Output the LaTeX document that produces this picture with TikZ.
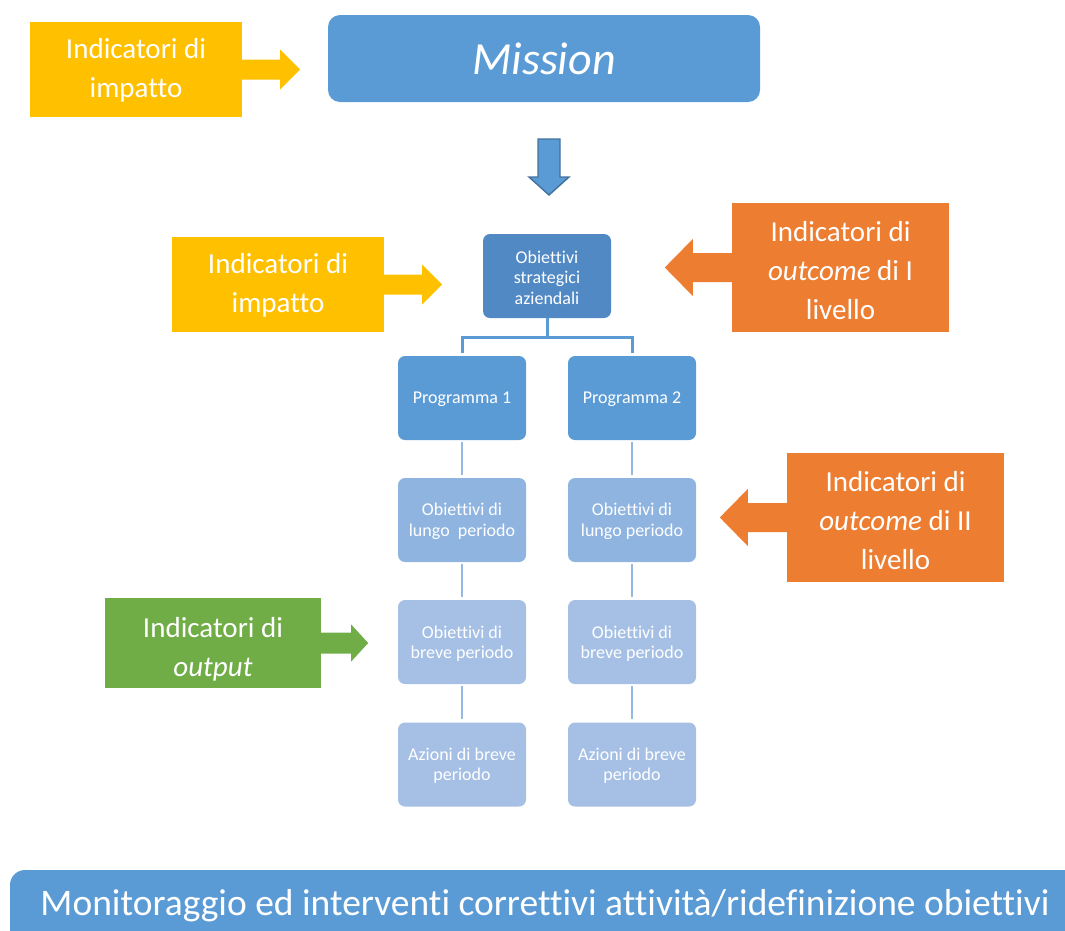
\documentclass[tikz,border=0pt]{standalone}
\usepackage{fontspec}
\setmainfont[Ligatures=NoCommon]{Carlito}
\usetikzlibrary{calc}
\definecolor{cyellow}{HTML}{FFC000}
\definecolor{corange}{HTML}{ED7D31}
\definecolor{cgreen}{HTML}{70AD47}
\definecolor{cblue}{HTML}{5B9BD5}
\definecolor{cstrat}{HTML}{5189C4}
\definecolor{clong}{HTML}{8FB4E0}
\definecolor{cshort}{HTML}{A5C0E4}
\definecolor{cedge}{HTML}{41719C}
\definecolor{cvline}{HTML}{94BAE4}
\tikzset{
  indbox/.style={inner sep=0pt, minimum width=#1pt},
  indtext/.style={inner sep=0pt, align=center, text=white,
     font=\fontsize{29}{39}\selectfont},
  orgbox/.style={fill=#1, rounded corners=7pt, inner sep=0pt, minimum width=128pt,
     minimum height=84pt},
  orgtext/.style={inner sep=0pt, align=center, text=white,
     font=\fontsize{18}{20.5}\selectfont},
  topconn/.style={draw=cblue, line width=3pt},
  vconn/.style={draw=cvline, line width=2.6pt},
}
\begin{document}
\begin{tikzpicture}[x=1pt,y=-1pt]
\useasboundingbox (0,0) rectangle (1065,930);

% Mission
\node[fill=cblue, rounded corners=12pt, minimum width=432pt, minimum height=87pt,
      inner sep=0pt, text=white, font=\fontsize{46}{50}\selectfont\itshape]
      (mission) at (544,58.5) {Mission};

% top-left indicator
\node[indbox=212, fill=cyellow, minimum height=95pt] (imp1) at (136,69.5) {};
\node[indtext] (imp1t) at ($(imp1.center)+(0,0.5)$) {Indicatori di\\impatto};
\fill[cyellow] ($(imp1.east)+(-1,-10)$) -- ++(39,0) -- ++(0,-10) -- ++(20,20)
   -- ++(-20,20) -- ++(0,-10) -- ++(-39,0) -- cycle;

% down block arrow
\filldraw[fill=cblue, draw=cedge, line width=1.4pt, line join=miter]
   (538,139) -- (560,139) -- (560,177) -- (569,177) -- (549,195) -- (529,177) -- (538,177) -- cycle;

% strategic objectives
\node[orgbox=cstrat] (strat) at (547,276) {};
\node[orgtext] at ($(strat.center)+(0,1.5)$) {Obiettivi\\strategici\\aziendali};

% programmes and objectives
\node[orgbox=cblue] (p1) at (462,398) {};
\node[orgbox=cblue] (p2) at (632,398) {};
\node[orgbox=clong] (l1) at (462,520) {};
\node[orgbox=clong] (l2) at (632,520) {};
\node[orgbox=cshort] (b1) at (462,642) {};
\node[orgbox=cshort] (b2) at (632,642) {};
\node[orgbox=cshort] (a1) at (462,764.5) {};
\node[orgbox=cshort] (a2) at (632,764.5) {};
\node[orgtext] at ($(p1.center)+(0,1.5)$) {Programma 1};
\node[orgtext] at ($(p2.center)+(0,1.5)$) {Programma 2};
\node[orgtext] at ($(l1.center)+(0,1.5)$) {Obiettivi di\\lungo\ \ periodo};
\node[orgtext] at ($(l2.center)+(0,1.5)$) {Obiettivi di\\lungo periodo};
\node[orgtext] at ($(b1.center)+(0,1.5)$) {Obiettivi di\\breve periodo};
\node[orgtext] at ($(b2.center)+(0,1.5)$) {Obiettivi di\\breve periodo};
\node[orgtext] at ($(a1.center)+(0,1)$) {Azioni di breve\\periodo};
\node[orgtext] at ($(a2.center)+(0,1)$) {Azioni di breve\\periodo};

% connectors
\draw[topconn] (strat.south) -- ($(strat.south)+(0,19)$) -| ($(p1.north)+(0,-3)$);
\draw[topconn] ($(strat.south)+(0,19)$) -| ($(p2.north)+(0,-3)$);
\foreach \u/\v in {p1/l1,p2/l2,l1/b1,l2/b2,b1/a1,b2/a2}{
  \draw[vconn] ($(\u.south)+(0,2)$) -- ($(\v.north)+(0,-3)$);
}

% second yellow indicator
\node[indbox=212, fill=cyellow, minimum height=95pt] (imp2) at (278,284.5) {};
\node[indtext] at ($(imp2.center)+(0,0.5)$) {Indicatori di\\impatto};
\fill[cyellow] ($(imp2.east)+(-1,-10)$) -- ++(39,0) -- ++(0,-10) -- ++(20,20)
   -- ++(-20,20) -- ++(0,-10) -- ++(-39,0) -- cycle;

% orange indicators
\node[indbox=217, fill=corange, minimum height=129pt] (out1) at (840.5,267.5) {};
\node[indtext] at ($(out1.center)+(0,3)$) {Indicatori di\\\textit{outcome} di I\\livello};
\fill[corange] ($(out1.west)+(1,-14.5)$) -- ++(-40,0) -- ++(0,-14) -- ++(-28,28.5)
   -- ++(28,28.5) -- ++(0,-14) -- ++(40,0) -- cycle;

\node[indbox=217, fill=corange, minimum height=129pt] (out2) at (895.5,517.5) {};
\node[indtext] at ($(out2.center)+(0,3)$) {Indicatori di\\\textit{outcome} di II\\livello};
\fill[corange] ($(out2.west)+(1,-14.5)$) -- ++(-40,0) -- ++(0,-14) -- ++(-28,28.5)
   -- ++(28,28.5) -- ++(0,-14) -- ++(40,0) -- cycle;

% green indicator
\node[indbox=216, fill=cgreen, minimum height=90pt] (outp) at (213,643) {};
\node[indtext] at ($(outp.center)+(0,6)$) {Indicatori di\\\textit{output}};
\fill[cgreen] ($(outp.east)+(-1,-10.5)$) -- ++(31,0) -- ++(0,-8) -- ++(17,18.5)
   -- ++(-17,18.5) -- ++(0,-8) -- ++(-31,0) -- cycle;

% bottom banner
\begin{scope}
  \clip (0,0) rectangle (1065,930);
  \fill[cblue, rounded corners=15pt] (10,870) rectangle (1120,990);
\end{scope}
\node[inner sep=0pt, text=white, anchor=base, font=\fontsize{37.5}{40}\selectfont] (banner)
   at (545,915) {Monitoraggio ed interventi correttivi attività/ridefinizione obiettivi};
\end{tikzpicture}
\end{document}
